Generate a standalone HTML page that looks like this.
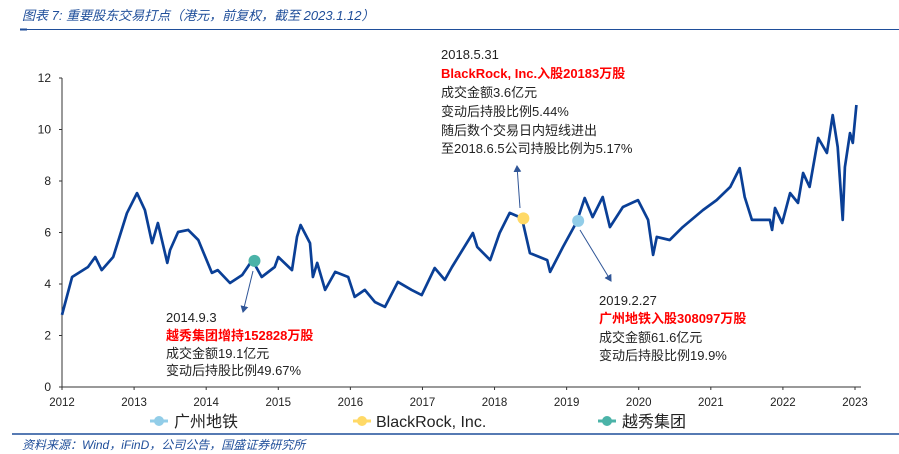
<!DOCTYPE html>
<html><head><meta charset="utf-8"><style>
body{margin:0;width:899px;height:454px;background:#fff;overflow:hidden;font-family:"Liberation Sans","Noto Sans CJK SC",sans-serif}
svg{position:absolute;left:0;top:0}
</style></head><body>
<svg id="c" width="899" height="454">
<text x="22" y="20" font-size="13" font-style="italic" fill="#1f4e9a">图表 7:  重要股东交易打点（港元，前复权，截至 2023.1.12）</text>
<line x1="20" y1="29.5" x2="899" y2="29.5" stroke="#1f4e9a" stroke-width="1"/>
<line x1="20" y1="29.5" x2="27" y2="29.5" stroke="#1f4e9a" stroke-width="2"/>
<line x1="12" y1="434" x2="899" y2="434" stroke="#1f4e9a" stroke-width="1.5"/>
<text x="22" y="449" font-size="12" font-style="italic" fill="#1f4e9a">资料来源：Wind，iFinD，公司公告，国盛证券研究所</text>
<g id="axes"></g>
<g id="plot"></g>
<g font-size="13" fill="#222">
<text x="166" y="322">2014.9.3</text>
<text x="166" y="340" fill="#ff0000" font-weight="bold">越秀集团增持152828万股</text>
<text x="166" y="358">成交金额19.1亿元</text>
<text x="166" y="375">变动后持股比例49.67%</text>
<text x="441" y="59">2018.5.31</text>
<text x="441" y="78" fill="#ff0000" font-weight="bold">BlackRock, Inc.入股20183万股</text>
<text x="441" y="97">成交金额3.6亿元</text>
<text x="441" y="116">变动后持股比例5.44%</text>
<text x="441" y="135">随后数个交易日内短线进出</text>
<text x="441" y="153">至2018.6.5公司持股比例为5.17%</text>
<text x="599" y="305">2019.2.27</text>
<text x="599" y="323" fill="#ff0000" font-weight="bold">广州地铁入股308097万股</text>
<text x="599" y="342">成交金额61.6亿元</text>
<text x="599" y="360">变动后持股比例19.9%</text>
</g>
<defs><marker id="ah" markerWidth="8" markerHeight="8" refX="6" refY="4" orient="auto"><path d="M0,0 L7,4 L0,8 z" fill="#2f5597"/></marker></defs>
<line x1="253" y1="271" x2="243" y2="312" stroke="#2f5597" stroke-width="1" marker-end="url(#ah)"/>
<line x1="520" y1="208" x2="517" y2="166" stroke="#2f5597" stroke-width="1" marker-end="url(#ah)"/>
<line x1="580" y1="230" x2="611" y2="281" stroke="#2f5597" stroke-width="1" marker-end="url(#ah)"/>
<g font-size="16" fill="#222">
<line x1="150" y1="421" x2="168" y2="421" stroke="#92cde8" stroke-width="3"/>
<circle cx="159" cy="421" r="5" fill="#92cde8"/>
<text x="174" y="427">广州地铁</text>
<line x1="353" y1="421" x2="371" y2="421" stroke="#ffd966" stroke-width="3"/>
<circle cx="362" cy="421" r="5" fill="#ffd966"/>
<text x="376" y="427">BlackRock, Inc.</text>
<line x1="598" y1="421" x2="616" y2="421" stroke="#4bb3a8" stroke-width="3"/>
<circle cx="607" cy="421" r="5" fill="#4bb3a8"/>
<text x="622" y="427">越秀集团</text>
</g>
</svg>
<script>
const years=[2012,2013,2014,2015,2016,2017,2018,2019,2020,2021,2022,2023];
const yTicks=[0,2,4,6,8,10,12];
const dates=[0,0.14,0.36,0.46,0.55,0.71,0.90,1.04,1.15,1.25,1.33,1.46,1.50,1.61,1.75,1.89,1.96,2.08,2.16,2.33,2.50,2.64,2.77,2.95,3.00,3.19,3.26,3.31,3.44,3.48,3.54,3.65,3.79,3.97,4.06,4.20,4.34,4.48,4.66,4.85,4.99,5.17,5.31,5.41,5.70,5.76,5.94,6.07,6.21,6.38,6.49,6.73,6.77,6.95,7.14,7.25,7.36,7.50,7.60,7.78,7.99,8.13,8.20,8.25,8.43,8.61,8.89,9.08,9.27,9.40,9.47,9.57,9.82,9.85,9.89,9.99,10.10,10.21,10.28,10.37,10.49,10.61,10.69,10.76,10.83,10.86,10.93,10.97,11.02];
const prices=[2.8,4.27,4.66,5.05,4.54,5.05,6.75,7.53,6.87,5.59,6.37,4.82,5.32,6.02,6.10,5.71,5.24,4.43,4.54,4.04,4.35,4.93,4.27,4.66,5.05,4.54,5.83,6.29,5.59,4.27,4.82,3.77,4.47,4.27,3.50,3.77,3.30,3.11,4.08,3.77,3.57,4.62,4.16,4.66,5.98,5.44,4.93,5.98,6.76,6.56,5.20,4.93,4.47,5.44,6.41,7.34,6.60,7.38,6.21,6.99,7.26,6.49,5.13,5.83,5.71,6.21,6.87,7.26,7.77,8.50,7.38,6.49,6.49,6.10,6.95,6.37,7.53,7.15,8.31,7.77,9.67,9.09,10.56,9.32,6.49,8.54,9.86,9.48,10.95];
const eventNames=['yuexiu','blackrock','guangzhou'];
const eventDates=[2.67,6.40,7.16];
const eventValues=[4.9,6.55,6.45];
const eventColors=['#4bb3a8','#ffd966','#92cde8'];
const X0=62,X1=855,Y0=387,Y1=78;
const sx=t=>X0+(t)*(X1-X0)/11;
const sy=v=>Y0-(v/12)*(Y0-Y1);
const NS='http://www.w3.org/2000/svg';
const ax=document.getElementById('axes'),pl=document.getElementById('plot');
function mk(p,tag,at){const e=document.createElementNS(NS,tag);for(const k in at)e.setAttribute(k,at[k]);p.appendChild(e);return e;}
let e=mk(ax,'line',{x1:X0,y1:Y0,x2:861,y2:Y0,stroke:'#333'});


e=mk(ax,'line',{x1:X0,y1:Y0,x2:X0,y2:Y1,stroke:'#333'});


yTicks.forEach(v=>{
 const t=mk(ax,'line',{x1:X0-3,y1:sy(v),x2:X0,y2:sy(v),stroke:'#333'});
 
 
 const l=mk(ax,'text',{x:51,y:sy(v)+4,'text-anchor':'end','font-size':12,fill:'#222'});
 l.textContent=v;
 
 
});
years.forEach((y,i)=>{
 const x=sx(i);
 const t=mk(ax,'line',{x1:x,y1:Y0,x2:x,y2:Y0+3,stroke:'#333'});
 
 
 const l=mk(ax,'text',{x:x,y:406,'text-anchor':'middle','font-size':11.5,fill:'#222'});
 l.textContent=y;
 
 
});
const d=dates.map((t,i)=>(i?'L':'M')+sx(t).toFixed(1)+','+sy(prices[i]).toFixed(1)).join(' ');
const p=mk(pl,'path',{d:d,fill:'none',stroke:'#0a3f96','stroke-width':2.7,'stroke-linejoin':'round'});


eventDates.forEach((t,i)=>{
 const c=mk(pl,'circle',{cx:sx(t),cy:sy(eventValues[i]),r:6,fill:eventColors[i]});
 
 
});
</script>
</body></html>
